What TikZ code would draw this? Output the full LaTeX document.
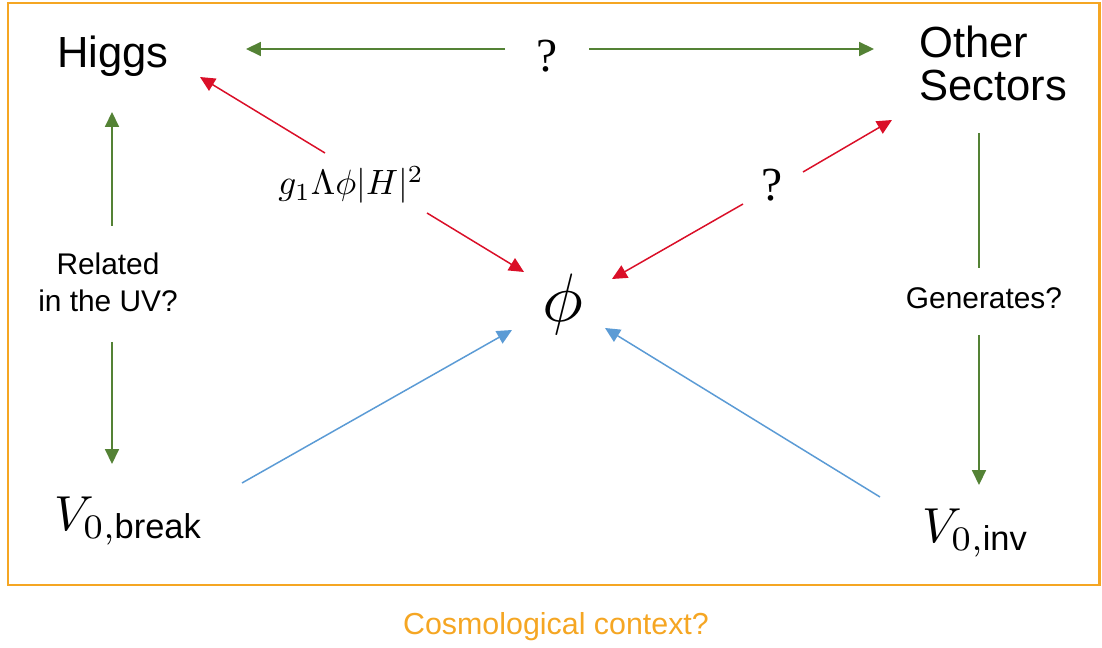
\documentclass[tikz,border=0pt]{standalone}
\usepackage{amsmath}
\usepackage{fontspec}
\setsansfont{Liberation Sans}
\newfontfamily\qfont{Liberation Serif}
\usetikzlibrary{arrows.meta}
\definecolor{frameor}{RGB}{245,166,35}
\definecolor{grn}{RGB}{84,130,53}
\definecolor{rd}{RGB}{218,15,40}
\definecolor{blu}{RGB}{91,155,213}
\begin{document}
\begin{tikzpicture}[x=0.02cm,y=-0.02cm,
  arr/.style={line width=0.85pt,-{Triangle[length=8.5pt,width=8pt]}},
  plain/.style={line width=0.85pt},
  big/.style={font=\sffamily\fontsize{24.8}{24.5}\selectfont, inner sep=0pt},
  lbl/.style={font=\sffamily\fontsize{17}{21}\selectfont, align=center, inner sep=0pt},
  qm/.style={font=\qfont\fontsize{27}{30}\selectfont, inner sep=0pt},
  mth/.style={inner sep=0pt, font=\fontsize{10}{12}\selectfont}]
\useasboundingbox (0,0) rectangle (1102,648);
\draw[frameor, line width=1.7pt] (8,3) rectangle (1099,585);

% nodes
\node[big] (higgs) at (113,56) {Higgs};
\node[big, align=left, anchor=west] (other) at (919,63) {Other\\Sectors};
\node[mth, scale=3.9] (phi) at (563,304) {$\phi$};
\node[mth, scale=2.8] (vb) at (129,521) {$V_{0,\text{\sffamily break}}$};
\node[mth, scale=2.8] (vi) at (976,533) {$V_{0,\text{\sffamily inv}}$};
\node[lbl] (rel) at (108,282) {Related\\in the UV?};
\node[lbl] (gen) at (984,298) {Generates?};
\node[mth, scale=2.0] (coup) at (351,185) {$g_1\Lambda\phi|H|^2$};
\node[qm] (q1) at (547,56) {?};
\node[qm] (q2) at (772,185) {?};
\node[font=\sffamily\fontsize{17.3}{20}\selectfont, text=frameor, inner sep=0pt] (cosmo) at (556,627) {Cosmological context?};

% connector end points
\coordinate (t1s) at (505,49);  \coordinate (t1e) at (246,49);
\coordinate (t2s) at (589,49);  \coordinate (t2e) at (874,49);
\coordinate (l1s) at (112,226); \coordinate (l1e) at (112,112);
\coordinate (l2s) at (112,342); \coordinate (l2e) at (112,464);
\coordinate (r1s) at (979,133); \coordinate (r1e) at (979,268);
\coordinate (r2s) at (979,335); \coordinate (r2e) at (979,485);
\coordinate (h1s) at (325,153); \coordinate (h1e) at (200,77);
\coordinate (h2s) at (427,213); \coordinate (h2e) at (524,272);
\coordinate (o1s) at (803,172); \coordinate (o1e) at (892,120);
\coordinate (o2s) at (743,204); \coordinate (o2e) at (612,279);
\coordinate (b1s) at (242,483); \coordinate (b1e) at (512,330);
\coordinate (b2s) at (880,497); \coordinate (b2e) at (605,328);

\draw[arr, grn] (t1s) -- (t1e);
\draw[arr, grn] (t2s) -- (t2e);
\draw[arr, grn] (l1s) -- (l1e);
\draw[arr, grn] (l2s) -- (l2e);
\draw[plain, grn] (r1s) -- (r1e);
\draw[arr, grn] (r2s) -- (r2e);
\draw[arr, rd] (h1s) -- (h1e);
\draw[arr, rd] (h2s) -- (h2e);
\draw[arr, rd] (o1s) -- (o1e);
\draw[arr, rd] (o2s) -- (o2e);
\draw[arr, blu] (b1s) -- (b1e);
\draw[arr, blu] (b2s) -- (b2e);
\end{tikzpicture}
\end{document}
